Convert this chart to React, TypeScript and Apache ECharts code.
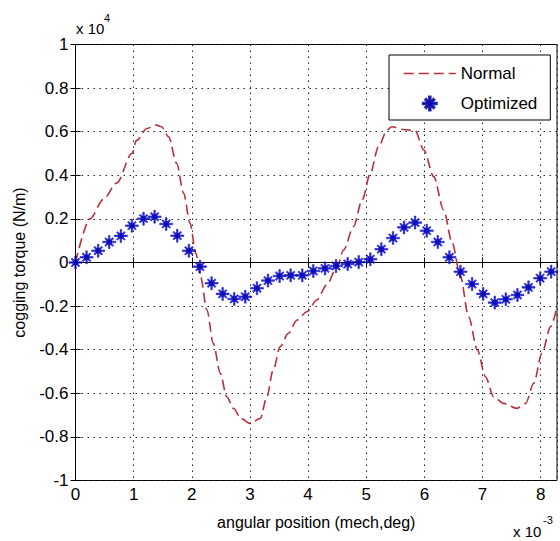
import React, { useEffect, useRef } from "react";
import * as echarts from "echarts";

// Normal (dashed red) curve, x in units of 1e-3, y in units of 1e4
const normalX = [0, 0.25, 0.48, 0.71, 0.97, 1.05, 1.23, 1.39, 1.48, 1.6, 1.74, 1.86, 1.97, 2.07, 2.15, 2.26, 2.37, 2.49, 2.6, 2.72, 2.84, 3.0, 3.18, 3.29, 3.4, 3.52, 3.66, 3.81, 3.98, 4.15, 4.32, 4.5, 4.61, 4.78, 4.93, 5.07, 5.21, 5.36, 5.44, 5.64, 5.84, 5.99, 6.16, 6.33, 6.48, 6.62, 6.76, 6.91, 7.05, 7.19, 7.36, 7.59, 7.74, 7.88, 8.02, 8.17, 8.28];
const normalY = [0.0, 0.2, 0.29, 0.365, 0.5, 0.56, 0.615, 0.63, 0.623, 0.577, 0.455, 0.317, 0.18, 0.042, -0.065, -0.218, -0.371, -0.508, -0.616, -0.67, -0.715, -0.738, -0.715, -0.616, -0.493, -0.386, -0.325, -0.264, -0.226, -0.172, -0.103, -0.019, 0.057, 0.164, 0.287, 0.409, 0.531, 0.608, 0.623, 0.61, 0.605, 0.516, 0.394, 0.241, 0.088, -0.065, -0.249, -0.401, -0.524, -0.616, -0.646, -0.669, -0.646, -0.554, -0.417, -0.294, -0.203];

// Optimized (blue stars)
const optX = [0, 0.19, 0.39, 0.58, 0.78, 0.97, 1.17, 1.36, 1.56, 1.75, 1.95, 2.14, 2.34, 2.53, 2.73, 2.92, 3.12, 3.31, 3.51, 3.7, 3.9, 4.09, 4.29, 4.48, 4.68, 4.87, 5.07, 5.26, 5.46, 5.65, 5.84, 6.04, 6.23, 6.43, 6.62, 6.82, 7.01, 7.21, 7.4, 7.6, 7.79, 7.99, 8.18];
const optY = [0.0, 0.024, 0.054, 0.094, 0.122, 0.169, 0.201, 0.21, 0.177, 0.123, 0.054, -0.019, -0.095, -0.144, -0.167, -0.157, -0.118, -0.083, -0.062, -0.059, -0.059, -0.039, -0.027, -0.016, -0.007, 0.002, 0.015, 0.061, 0.112, 0.161, 0.183, 0.146, 0.094, 0.024, -0.042, -0.099, -0.144, -0.184, -0.169, -0.149, -0.114, -0.072, -0.042];

const yTicks = ["-1", "-0.8", "-0.6", "-0.4", "-0.2", "0", "0.2", "0.4", "0.6", "0.8", "1"];

const FONT = "Liberation Sans, Arial, Helvetica, sans-serif";
const RED = "#b8303c";
const STAR =
  "path://M8.8,0 L11.2,0 L11.2,20 L8.8,20 Z M0,8.8 L20,8.8 L20,11.2 L0,11.2 Z M3.2,4.8 L4.8,3.2 L16.8,15.2 L15.2,16.8 Z M15.2,3.2 L16.8,4.8 L4.8,16.8 L3.2,15.2 Z M6.5,6.5 L13.5,6.5 L13.5,13.5 L6.5,13.5 Z";

export default function App() {
  const ref = useRef<HTMLDivElement>(null);
  useEffect(() => {
    document.body.style.margin = "0";
    const chart = echarts.init(ref.current!, null, { renderer: "svg" });
    const grid = { left: 75.5, right: 3, top: 44.5, bottom: 60.5 };
    const xMin = 0;
    const xMax = 8.28;
    chart.setOption({
      animation: false,
      backgroundColor: "#fff",
      grid: { ...grid, show: true, borderColor: "#000", borderWidth: 1, backgroundColor: "#fff" },
      legend: {
        orient: "vertical",
        left: 389,
        top: 55,
        padding: [10, 13, 8, 14],
        itemWidth: 52,
        itemHeight: 14,
        itemGap: 13,
        borderColor: "#000",
        borderWidth: 1,
        borderRadius: 0,
        backgroundColor: "#fff",
        textStyle: { fontSize: 17, fontFamily: FONT, color: "#000" },
        data: [
          {
            name: "Normal",
            itemStyle: { color: "rgba(0,0,0,0)", borderWidth: 0, opacity: 0 },
            lineStyle: { color: RED, width: 1.6, type: [10, 5] },
          },
          { name: "Optimized", icon: STAR },
        ],
      },
      xAxis: [
        {
          type: "value",
          min: xMin,
          max: xMax,
          interval: 1,
          name: "angular position (mech,deg)",
          nameLocation: "middle",
          nameGap: 34,
          nameTextStyle: { fontSize: 16, fontFamily: FONT, color: "#000" },
          axisLine: { show: true, lineStyle: { color: "#000", width: 1 } },
          axisTick: { show: true, inside: true, length: 5, lineStyle: { color: "#000" } },
          axisLabel: { fontSize: 17, fontFamily: FONT, color: "#000", margin: 5, showMaxLabel: false },
          splitLine: { show: true, lineStyle: { color: "#222", type: [1.5, 4.5], width: 1 } },
        },
        {
          type: "value",
          position: "top",
          min: xMin,
          max: xMax,
          interval: 1,
          axisLine: { show: true, lineStyle: { color: "#000", width: 1 } },
          axisTick: { show: true, inside: true, length: 5, lineStyle: { color: "#000" } },
          axisLabel: { show: false },
          splitLine: { show: false },
        },
      ],
      yAxis: [
        {
          type: "value",
          min: -1,
          max: 1,
          interval: 0.2,
          name: "cogging torque (N/m)",
          nameLocation: "middle",
          nameGap: 48,
          nameTextStyle: { fontSize: 16, fontFamily: FONT, color: "#000" },
          axisLine: { show: true, lineStyle: { color: "#000", width: 1 } },
          axisTick: { show: true, inside: true, length: 5, lineStyle: { color: "#000" } },
          axisLabel: {
            fontSize: 17,
            fontFamily: FONT,
            color: "#000",
            margin: 7,
            formatter: (v: number) => yTicks[Math.round((v + 1) / 0.2)] ?? String(v),
          },
          splitLine: { show: true, lineStyle: { color: "#222", type: [1.5, 4.5], width: 1 } },
        },
        {
          type: "value",
          position: "right",
          min: -1,
          max: 1,
          interval: 0.2,
          axisLine: { show: true, lineStyle: { color: "#000", width: 1 } },
          axisTick: { show: true, inside: true, length: 5, lineStyle: { color: "#000" } },
          axisLabel: { show: false },
          splitLine: { show: false },
        },
      ],
      series: [
        {
          name: "Normal",
          type: "line",
          xAxisIndex: 0,
          yAxisIndex: 0,
          data: normalX.map((x, i) => [x, normalY[i]]),
          symbol: "none",
          smooth: 0.3,
          smoothMonotone: "x",
          lineStyle: { color: RED, width: 1.6, type: [10, 5] },
          itemStyle: { color: RED },
          z: 3,
        },
        {
          name: "Optimized",
          type: "scatter",
          xAxisIndex: 0,
          yAxisIndex: 0,
          data: optX.map((x, i) => [x, optY[i]]),
          symbol: STAR,
          symbolSize: 13,
          itemStyle: { color: "#0000ff", borderColor: "#00009a", borderWidth: 0.6 },
          z: 4,
        },
      ],
      graphic: [
        { type: "text", left: 76, top: 21, style: { text: "x 10", fontSize: 15, fontFamily: FONT, fill: "#000" } },
        { type: "text", left: 104, top: 12, style: { text: "4", fontSize: 11, fontFamily: FONT, fill: "#000" } },
        { type: "text", left: 513, top: 524, style: { text: "x 10", fontSize: 15, fontFamily: FONT, fill: "#000" } },
        { type: "text", left: 543, top: 514, style: { text: "-3", fontSize: 11, fontFamily: FONT, fill: "#000" } },
      ],
    });
    return () => chart.dispose();
  }, []);
  return <div ref={ref} style={{ width: 560, height: 541 }} />;
}
